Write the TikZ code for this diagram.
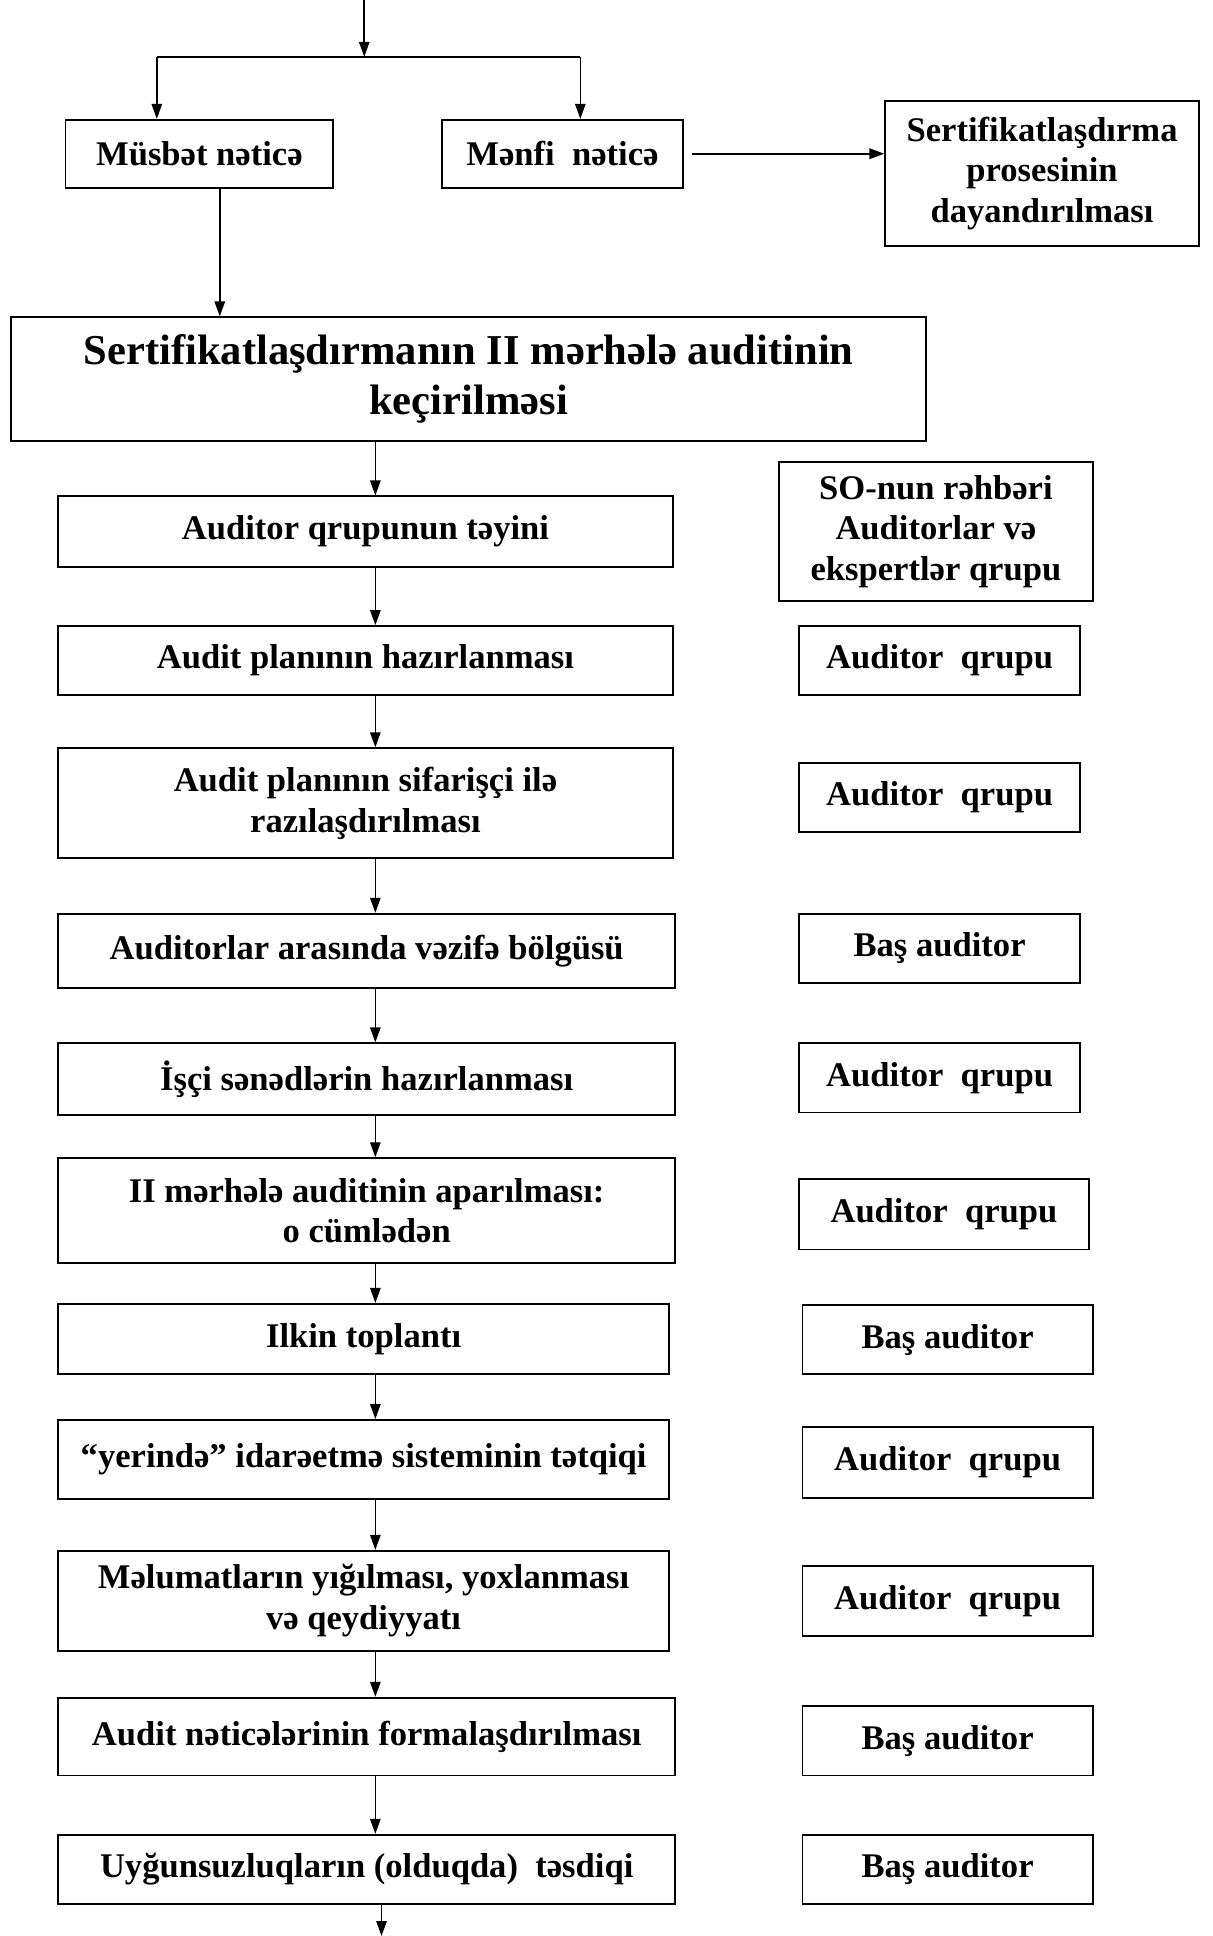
\documentclass[tikz,border=0pt]{standalone}
\usepackage{fontspec}
\setmainfont{Liberation Serif}
\usetikzlibrary{arrows.meta}
\begin{document}
\begin{tikzpicture}[x=0.6176pt,y=-0.6176pt,
		box/.style={draw,line width=0.9pt,inner sep=0pt,align=center,font=\fontsize{17.3}{20.3}\selectfont\bfseries},
		sz/.style 2 args={minimum width=#1*0.6176pt,minimum height=#2*0.6176pt},
		arr/.style={line width=0.8pt,-{Triangle[length=7.5pt,width=5.2pt]}}]
		\useasboundingbox (0,0) rectangle (982,1568);
		\node[box,sz={217}{55}] (mus) at (161.5,124.5) {Müsbət nəticə};
		\node[box,sz={195}{55}] (menfi) at (455.5,124.5) {Mənfi~ nəticə};
		\node[box,sz={254}{117}] (dayan) at (844,140.5) {Sertifikatlaşdırma\\prosesinin\\dayandırılması};
		\node[box,sz={741}{100},font=\fontsize{21.3}{25.3}\selectfont\bfseries] (kec) at (379.5,307) {Sertifikatlaşdırmanın II mərhələ auditinin\\keçirilməsi};
		\node[box,sz={498}{57}] (tey) at (296,430.5) {Auditor qrupunun təyini};
		\node[box,sz={254}{113}] (rtey) at (758,430.5) {SO-nun rəhbəri\\Auditorlar və\\ekspertlər qrupu};
		\node[box,sz={498}{56}] (plan) at (296,535) {Audit planının hazırlanması};
		\node[box,sz={228}{56}] (rplan) at (761,535) {Auditor~ qrupu};
		\node[box,sz={498}{89}] (raz) at (296,650.5) {Audit planının sifarişçi ilə\\razılaşdırılması};
		\node[box,sz={228}{56}] (rraz) at (761,646) {Auditor~ qrupu};
		\node[box,sz={500}{60}] (bolgu) at (297,770) {Auditorlar arasında vəzifə bölgüsü};
		\node[box,sz={228}{56}] (rbolgu) at (761,768) {Baş auditor};
		\node[box,sz={500}{58}] (isci) at (297,874) {İşçi sənədlərin hazırlanması};
		\node[box,sz={228}{56}] (risci) at (761,873) {Auditor~ qrupu};
		\node[box,sz={500}{85}] (apar) at (297,980.5) {II mərhələ auditinin aparılması:\\o cümlədən};
		\node[box,sz={235}{57}] (rapar) at (764.5,983.5) {Auditor~ qrupu};
		\node[box,sz={495}{57}] (ilkin) at (294.5,1084.5) {Ilkin toplantı};
		\node[box,sz={235}{56}] (rilkin) at (767.5,1085) {Baş auditor};
		\node[box,sz={495}{64}] (yerinde) at (294.5,1182) {“yerində” idarəetmə sisteminin tətqiqi};
		\node[box,sz={235}{57}] (ryerinde) at (767.5,1184.5) {Auditor~ qrupu};
		\node[box,sz={495}{81}] (melumat) at (294.5,1296.5) {Məlumatların yığılması, yoxlanması\\və qeydiyyatı};
		\node[box,sz={235}{57}] (rmelumat) at (767.5,1296.5) {Auditor~ qrupu};
		\node[box,sz={500}{63}] (netice) at (297,1406.5) {Audit nəticələrinin formalaşdırılması};
		\node[box,sz={235}{56}] (rnetice) at (767.5,1410) {Baş auditor};
		\node[box,sz={500}{56}] (tesdiq) at (297,1514) {Uyğunsuzluqların (olduqda)~ təsdiqi};
		\node[box,sz={235}{56}] (rtesdiq) at (767.5,1514) {Baş auditor};
		\coordinate (top) at (295,0);
		\coordinate (sl) at (127,46);
		\coordinate (sr) at (470,46);
		\coordinate (mx) at (178,0);
		\coordinate (ax) at (304,0);
		\coordinate (son) at (309,1568);
		\draw[arr] (top) -- (top |- sl);
		\draw[line width=0.9pt] (sl) -- (sr);
		\draw[arr] (sl) -- (sl |- mus.north);
		\draw[arr] (sr) -- (sr |- menfi.north);
		\draw[arr,line width=1.1pt] ([xshift=4.3pt]menfi.east) -- (dayan.west |- menfi.east);
		\draw[arr] (mus.south -| mx) -- (kec.north -| mx);
		\draw[arr] (kec.south -| ax) -- (tey.north -| ax);
		\draw[arr] (tey.south -| ax) -- (plan.north -| ax);
		\draw[arr] (plan.south -| ax) -- (raz.north -| ax);
		\draw[arr] (raz.south -| ax) -- (bolgu.north -| ax);
		\draw[arr] (bolgu.south -| ax) -- (isci.north -| ax);
		\draw[arr] (isci.south -| ax) -- (apar.north -| ax);
		\draw[arr] (apar.south -| ax) -- (ilkin.north -| ax);
		\draw[arr] (ilkin.south -| ax) -- (yerinde.north -| ax);
		\draw[arr] (yerinde.south -| ax) -- (melumat.north -| ax);
		\draw[arr] (melumat.south -| ax) -- (netice.north -| ax);
		\draw[arr] (netice.south -| ax) -- (tesdiq.north -| ax);
		\draw[arr] (tesdiq.south -| son) -- (son);
\end{tikzpicture}
\end{document}
